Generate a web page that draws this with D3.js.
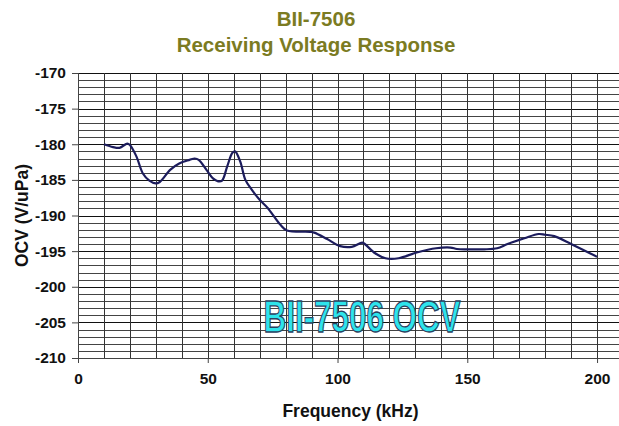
<!DOCTYPE html>
<html>
<head>
<meta charset="utf-8">
<script src="https://cdn.jsdelivr.net/npm/d3@7"></script>
<style>
  body { margin: 0; background: #fff; }
  svg { display: block; font-family: "Liberation Sans", Arial, sans-serif; }
</style>
</head>
<body>
<div id="chart"></div>
<script>
// Receiving voltage response
const freqKHz = [10, 13.5, 16, 19, 20, 22.5, 25, 27.5, 30, 31.5, 35.5, 39, 43, 45, 46.5, 49.5,
    52, 54, 55.5, 57.5, 59.5, 60.5, 62.5, 64.5, 67, 70, 73, 78, 80.5, 89.5, 91, 96, 101,
    105.5, 109.5, 110.5, 114.5, 118.5, 123.5, 130.5, 138, 143.5, 146, 150, 156.5, 161.5,
    165.5, 172, 177.5, 180, 183.5, 190, 200];
const ocv = [-180.0, -180.4, -180.5, -179.9, -180.1, -181.7, -184.1, -185.1, -185.5, -185.3,
    -183.6, -182.7, -182.2, -182.0, -182.2, -183.6, -184.8, -185.2, -185.1, -183.1, -181.2,
    -181.0, -182.4, -185.0, -186.4, -187.8, -188.9, -191.3, -192.1, -192.3, -192.4, -193.3,
    -194.3, -194.4, -193.8, -194.0, -195.3, -196.0, -196.0, -195.2, -194.6, -194.5, -194.7,
    -194.75, -194.75, -194.6, -194.0, -193.2, -192.6, -192.7, -192.9, -194.0, -195.8];

const xTicks = [0, 50, 100, 150, 200];
const yTicks = [-170, -175, -180, -185, -190, -195, -200, -205, -210];
const titleLines = ["BII-7506", "Receiving Voltage Response"];
const watermark = "BII-7506 OCV";

const data = freqKHz.map((f, i) => ({ f: f, v: ocv[i] }));

const width = 619, height = 426;
const margin = { top: 73, right: -4, bottom: 68, left: 78 };
const innerWidth = width - margin.left - margin.right;
const innerHeight = height - margin.top - margin.bottom;

const svg = d3.select("#chart")
    .append("svg")
    .attr("width", width)
    .attr("height", height);

const g = svg.append("g")
    .attr("transform", `translate(${margin.left},${margin.top})`);

// Scales
const x = d3.scaleLinear().domain([0, 210]).range([0, innerWidth]);
const y = d3.scaleLinear().domain([-210, -170]).range([innerHeight, 0]);

// Grid: every 1 unit on y, every 10 kHz on x
g.append("g")
    .selectAll("line")
    .data(d3.range(-210, -169, 1))
    .join("line")
    .attr("x1", 0).attr("x2", innerWidth)
    .attr("y1", d => Math.round(y(d)) + 0.5)
    .attr("y2", d => Math.round(y(d)) + 0.5)
    .attr("stroke", d => d % 5 === 0 ? "#111" : "#444")
    .attr("stroke-width", 1);

g.append("g")
    .selectAll("line")
    .data(d3.range(0, 211, 10))
    .join("line")
    .attr("x1", d => Math.round(x(d)) + 0.5)
    .attr("x2", d => Math.round(x(d)) + 0.5)
    .attr("y1", 0).attr("y2", innerHeight)
    .attr("stroke", "#333")
    .attr("stroke-width", 1);

// Axes (plain hyphen for negatives, like the reference)
const xAxis = g.append("g")
    .attr("transform", `translate(0,${innerHeight})`)
    .call(d3.axisBottom(x).tickValues(xTicks).tickSize(5).tickPadding(10).tickFormat(d => String(d)));
const yAxis = g.append("g")
    .call(d3.axisLeft(y).tickValues(yTicks).tickSize(6).tickPadding(6).tickFormat(d => String(d)));

[xAxis, yAxis].forEach(a => {
    a.select(".domain").attr("stroke", "#444");
    a.selectAll(".tick line").attr("stroke", "#444");
    a.selectAll(".tick text")
        .attr("fill", "#111")
        .attr("font-size", "15.5px")
        .attr("font-weight", "bold")
        .attr("font-family", "Liberation Sans, Arial, sans-serif");
});

// Line
const line = d3.line()
    .x(d => x(d.f))
    .y(d => y(d.v))
    .curve(d3.curveCatmullRom.alpha(0.5));

g.append("path")
    .datum(data)
    .attr("fill", "none")
    .attr("stroke", "#1c1c5c")
    .attr("stroke-width", 2.2)
    .attr("stroke-linejoin", "round")
    .attr("d", line);

// Watermark label
g.append("text")
    .attr("x", x(71.5))
    .attr("y", y(-206.4))
    .attr("textLength", 197)
    .attr("lengthAdjust", "spacingAndGlyphs")
    .attr("font-size", "45px")
    .attr("font-weight", "bold")
    .attr("fill", "#2ee4ec")
    .attr("stroke", "#2a4060")
    .attr("stroke-width", 1.3)
    .text(watermark);

// Titles
svg.selectAll(".title")
    .data(titleLines)
    .join("text")
    .attr("class", "title")
    .attr("x", 316)
    .attr("y", (d, i) => 26 + i * 26)
    .attr("text-anchor", "middle")
    .attr("font-size", "20.5px")
    .attr("font-weight", "bold")
    .attr("fill", "#7b7b22")
    .text(d => d);

// Axis labels
svg.append("text")
    .attr("x", margin.left + x(105))
    .attr("y", 417)
    .attr("text-anchor", "middle")
    .attr("font-size", "17.5px")
    .attr("font-weight", "bold")
    .attr("fill", "#111")
    .text("Frequency (kHz)");

svg.append("text")
    .attr("transform", "rotate(-90)")
    .attr("x", -(margin.top + innerHeight / 2))
    .attr("y", 28)
    .attr("text-anchor", "middle")
    .attr("font-size", "17.5px")
    .attr("font-weight", "bold")
    .attr("fill", "#111")
    .text("OCV (V/uPa)");
</script>
</body>
</html>
